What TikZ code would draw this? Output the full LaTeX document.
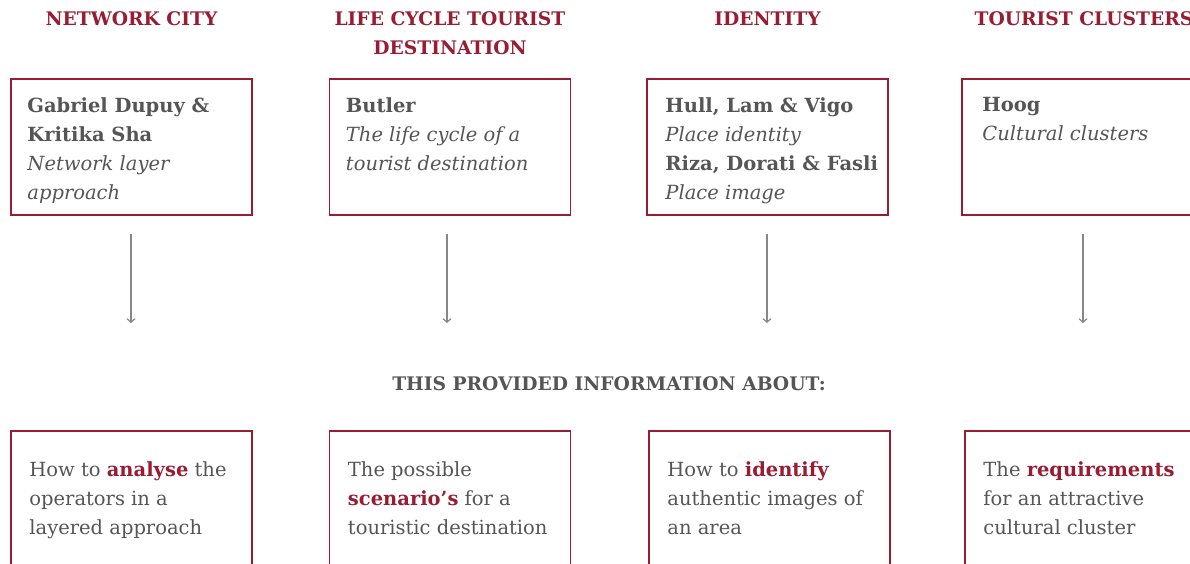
\documentclass[tikz,border=0pt]{standalone}
\usepackage{fontspec}
\setmainfont{DejaVu Serif}
\usetikzlibrary{positioning,arrows.meta}
\definecolor{rred}{RGB}{152,28,50}
\definecolor{tgray}{RGB}{85,85,85}
\definecolor{agray}{RGB}{135,135,135}
\newcommand{\boxfont}{\fontsize{19.5}{29}\selectfont}
\newcommand{\headfont}{\fontsize{18.7}{29}\selectfont\bfseries}
\newcommand{\hl}[1]{\textcolor{rred}{\textbf{#1}}}

\begin{document}
\begin{tikzpicture}[x=1pt, y=-1pt, >={Straight Barb[length=3.5pt,width=8pt]},
    head/.style={text=rred, font=\headfont, align=center, anchor=north, inner sep=0pt},
    frame/.style={draw=rred, line width=1.5pt, minimum width=241pt, minimum height=136pt, inner sep=0pt},
    txt/.style={text=tgray, font=\boxfont, align=left, inner sep=0pt, anchor=north west},
    arr/.style={->, draw=agray, line width=1.2pt, shorten <=18pt}]
    % page size of the reference
    \useasboundingbox (0,0) rectangle (1190,563);

    % headings
    \node[head] (h1) at (131.5, 11.5) {NETWORK CITY};
    \node[head] (h2) at (450, 11.5) {LIFE CYCLE TOURIST\\DESTINATION};
    \node[head] (h3) at (767.5, 11.5) {IDENTITY};
    \node[head] (h4) at (1084, 11.5) {TOURIST CLUSTERS};

    % sources
    \node[frame] (t1) at (131.5, 147) {};
    \node[frame] (t2) at (450, 147) {};
    \node[frame] (t3) at (767.5, 147) {};
    \node[frame] (t4) at (1082.5, 147) {};

    \node[txt, below right=19pt and 17pt of t1.north west] (s1)
        {\textbf{Gabriel Dupuy \&}\\\textbf{Kritika Sha}\\\textit{Network layer}\\\textit{approach}};
    \node[txt, below right=19pt and 17pt of t2.north west] (s2)
        {\textbf{Butler}\\\textit{The life cycle of a}\\\textit{tourist destination}};
    \node[txt, below right=19pt and 19pt of t3.north west] (s3)
        {\textbf{Hull, Lam \& Vigo}\\\textit{Place identity}\\\textbf{Riza, Dorati \& Fasli}\\\textit{Place image}};
    \node[txt, below right=19pt and 21pt of t4.north west] (s4)
        {\textbf{Hoog}\\\textit{Cultural clusters}};

    % arrows
    \coordinate (e1) at (131, 323);
    \coordinate (e2) at (447, 323);
    \coordinate (e3) at (767, 323);
    \coordinate (e4) at (1083, 323);
    \foreach \i in {1,...,4}
        \draw[arr] (e\i |- t\i.south) -- (e\i);

    \node[text=tgray, font=\headfont, inner sep=0pt] (info) at (609, 384) {THIS PROVIDED INFORMATION ABOUT:};

    % results
    \node[frame] (b1) at (131.5, 499) {};
    \node[frame] (b2) at (450, 499) {};
    \node[frame] (b3) at (769.5, 499) {};
    \node[frame] (b4) at (1085.5, 499) {};

    \node[txt, below right=31pt and 19pt of b1.north west] (r1)
        {How to \hl{analyse} the\\operators in a\\layered approach};
    \node[txt, below right=31pt and 19pt of b2.north west] (r2)
        {The possible\\\hl{scenario’s} for a\\touristic destination};
    \node[txt, below right=31pt and 19pt of b3.north west] (r3)
        {How to \hl{identify}\\authentic images of\\an area};
    \node[txt, below right=31pt and 19pt of b4.north west] (r4)
        {The \hl{requirements}\\for an attractive\\cultural cluster};
\end{tikzpicture}
\end{document}
